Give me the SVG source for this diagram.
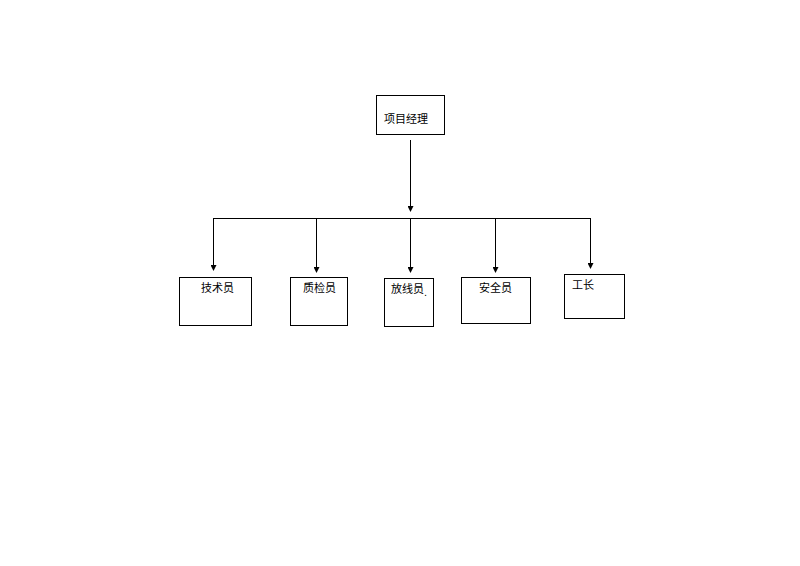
<svg xmlns="http://www.w3.org/2000/svg" width="800" height="566" viewBox="0 0 800 566">
<style>
.box{fill:#fff;stroke:#000;stroke-width:1}
.t{font-family:"Liberation Sans","Noto Sans CJK SC",sans-serif;font-size:11px;fill:#000}
.c{fill:none;stroke:#000;stroke-width:1}
</style>
<defs>
<marker id="ah" markerWidth="6" markerHeight="6" refX="5" refY="3" orient="auto" markerUnits="userSpaceOnUse">
<path d="M0,0 L6,3 L0,6 Z" fill="#000"/>
</marker>
</defs>
<rect width="800" height="566" fill="#fff"/>
<g id="connectors">
<line class="c" x1="410.5" y1="140" x2="410.5" y2="211" marker-end="url(#ah)"/>
<line class="c" x1="213.5" y1="218.5" x2="590.5" y2="218.5"/>
<line class="c" x1="213.5" y1="218" x2="213.5" y2="270" marker-end="url(#ah)"/>
<line class="c" x1="316.5" y1="218" x2="316.5" y2="272" marker-end="url(#ah)"/>
<line class="c" x1="410.5" y1="218" x2="410.5" y2="272" marker-end="url(#ah)"/>
<line class="c" x1="495.5" y1="218" x2="495.5" y2="272" marker-end="url(#ah)"/>
<line class="c" x1="590.5" y1="218" x2="590.5" y2="268" marker-end="url(#ah)"/>
</g>
<g id="pm">
<rect class="box" x="376.5" y="95.5" width="68" height="39"/>
<text class="t" x="384" y="123">项目经理</text>
</g>
<g id="jsy">
<rect class="box" x="179.5" y="277.5" width="72" height="48"/>
<text class="t" x="201" y="292">技术员</text>
</g>
<g id="zjy">
<rect class="box" x="290.5" y="277.5" width="57" height="48"/>
<text class="t" x="303" y="292">质检员</text>
</g>
<g id="fxy">
<rect class="box" x="384.5" y="278.5" width="49" height="48"/>
<text class="t" x="391" y="293">放线员<tspan dy="3">.</tspan></text>
</g>
<g id="aqy">
<rect class="box" x="461.5" y="277.5" width="69" height="46"/>
<text class="t" x="479" y="292">安全员</text>
</g>
<g id="gz">
<rect class="box" x="564.5" y="274.5" width="60" height="44"/>
<text class="t" x="572" y="289">工长</text>
</g>
</svg>
